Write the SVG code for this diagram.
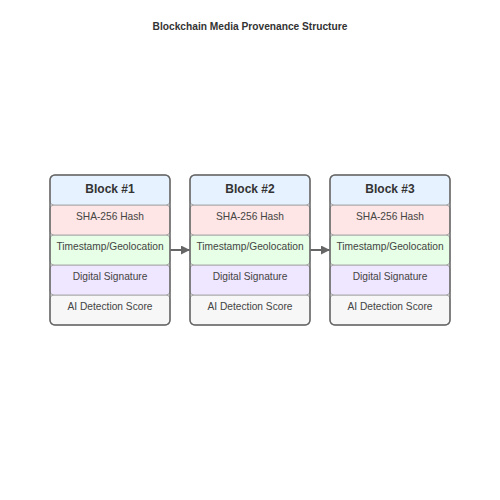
<svg xmlns="http://www.w3.org/2000/svg" width="500" height="500" viewBox="0 0 500 500">
<defs>
<marker id="ah" viewBox="0 0 10 10" refX="10" refY="5" markerWidth="4.5" markerHeight="4.5" orient="auto"><path d="M0,0 L10,5 L0,10 z" fill="#666"/></marker>
</defs>
<style>
text{font-family:"Liberation Sans",Arial,sans-serif;fill:#333;text-anchor:middle}
.t{font-size:10.2px;fill:#444}
.h{font-size:12px;font-weight:bold}
.title{font-size:10.2px;font-weight:bold}
.row{stroke:#aaa;stroke-width:1}
.hd{fill:#e6f2ff}.hs{fill:#ffe6e6}.ts{fill:#e6ffe6}.sg{fill:#efe6ff}.ai{fill:#f7f7f7}
.outer{fill:none;stroke:#666;stroke-width:1.5}
.conn{stroke:#666;stroke-width:2;fill:none}
</style>
<rect width="500" height="500" fill="#fff"/>
<text class="title" x="250" y="30">Blockchain Media Provenance Structure</text>
<g id="connectors">
<line class="conn" x1="170" y1="250" x2="190" y2="250" marker-end="url(#ah)"/>
<line class="conn" x1="310" y1="250" x2="330" y2="250" marker-end="url(#ah)"/>
</g>
<g id="block1">
<rect class="row ai" x="50" y="295" width="120" height="30" rx="4"/>
<rect class="row sg" x="50" y="265" width="120" height="30" rx="4"/>
<rect class="row ts" x="50" y="235" width="120" height="30" rx="4"/>
<rect class="row hs" x="50" y="205" width="120" height="30" rx="4"/>
<rect class="row hd" x="50" y="175" width="120" height="30" rx="4"/>
<rect class="outer" x="50" y="175" width="120" height="150" rx="5"/>
<text class="h" x="110" y="193">Block #1</text>
<text class="t" x="110" y="220">SHA-256 Hash</text>
<text class="t" x="110" y="250">Timestamp/Geolocation</text>
<text class="t" x="110" y="280">Digital Signature</text>
<text class="t" x="110" y="310">AI Detection Score</text>
</g>
<g id="block2">
<rect class="row ai" x="190" y="295" width="120" height="30" rx="4"/>
<rect class="row sg" x="190" y="265" width="120" height="30" rx="4"/>
<rect class="row ts" x="190" y="235" width="120" height="30" rx="4"/>
<rect class="row hs" x="190" y="205" width="120" height="30" rx="4"/>
<rect class="row hd" x="190" y="175" width="120" height="30" rx="4"/>
<rect class="outer" x="190" y="175" width="120" height="150" rx="5"/>
<text class="h" x="250" y="193">Block #2</text>
<text class="t" x="250" y="220">SHA-256 Hash</text>
<text class="t" x="250" y="250">Timestamp/Geolocation</text>
<text class="t" x="250" y="280">Digital Signature</text>
<text class="t" x="250" y="310">AI Detection Score</text>
</g>
<g id="block3">
<rect class="row ai" x="330" y="295" width="120" height="30" rx="4"/>
<rect class="row sg" x="330" y="265" width="120" height="30" rx="4"/>
<rect class="row ts" x="330" y="235" width="120" height="30" rx="4"/>
<rect class="row hs" x="330" y="205" width="120" height="30" rx="4"/>
<rect class="row hd" x="330" y="175" width="120" height="30" rx="4"/>
<rect class="outer" x="330" y="175" width="120" height="150" rx="5"/>
<text class="h" x="390" y="193">Block #3</text>
<text class="t" x="390" y="220">SHA-256 Hash</text>
<text class="t" x="390" y="250">Timestamp/Geolocation</text>
<text class="t" x="390" y="280">Digital Signature</text>
<text class="t" x="390" y="310">AI Detection Score</text>
</g>
</svg>
